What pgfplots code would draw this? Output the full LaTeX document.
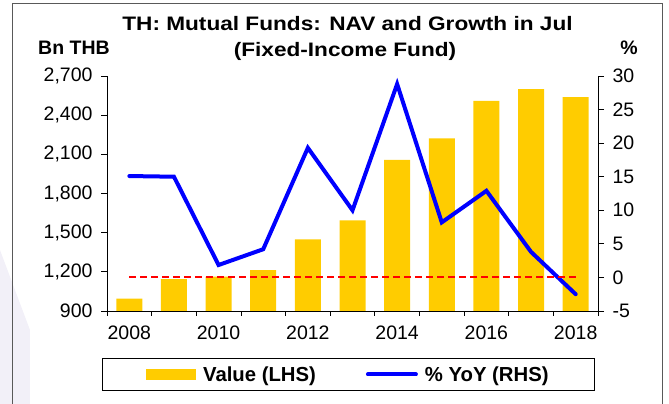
\documentclass[border=0pt]{standalone}
\usepackage{fontspec}
\setmainfont{Liberation Sans}
\newfontfamily\titlefont[FakeStretch=1.16]{Liberation Sans}
\usepackage{pgfplots}
\pgfplotsset{compat=1.18}
\definecolor{barc}{HTML}{FFCC00}
\definecolor{linec}{HTML}{0000FF}
\definecolor{framec}{HTML}{595959}
\definecolor{wmark}{RGB}{242,240,248}
\pgfplotsset{
  common/.style={
    scale only axis, width=491pt, height=235pt,
    at={(0pt,0pt)}, anchor=south west,
    xmin=2007.5, xmax=2018.5,
    tick align=outside, major tick length=6pt, minor tick length=5pt,
    axis line style={black, line width=0.8pt},
    tick style={black, line width=0.8pt},
    /pgf/number format/assume math mode=true,
    /pgf/number format/1000 sep={,},
  }
}
\begin{document}
\begin{tikzpicture}[font=\fontsize{19.5}{23}\selectfont]
\begin{scope}[shift={(-107pt,311pt)}, x=1pt, y=-1pt]
\useasboundingbox (0,0) rectangle (669,404);
\fill[wmark] (0,250) -- (30,330) -- (30,404) -- (0,404) -- cycle;
\draw[framec, line width=1pt] (13,4) rectangle (662,440);
\end{scope}

\begin{axis}[common,
  axis y line*=left, axis x line*=bottom,
  ymin=900, ymax=2700, ytick={900,1200,...,2700},
  yticklabel style={xshift=-5pt},
  xtick={2008,2010,...,2018},
  xticklabel style={/pgf/number format/1000 sep=, yshift=-5pt},
  major x tick style={draw=none},
  minor xtick={2007.5,2008.5,...,2018.5},
]
\addplot[ybar, bar width=26pt, fill=barc, draw=none] coordinates {
(2008,995) (2009,1145) (2010,1163) (2011,1214) (2012,1449) (2013,1595)
(2014,2057) (2015,2223) (2016,2509) (2017,2600) (2018,2539)};
\end{axis}

\begin{axis}[common,
  axis y line*=right, axis x line=none,
  ymin=-5, ymax=30, ytick={-5,0,...,30},
  yticklabel style={xshift=5pt},
  clip=false,
  legend columns=2,
  legend style={at={(0.4918,-0.27)}, anchor=center, draw=black, line width=0.8pt,
    font=\fontsize{20.3}{24}\selectfont\bfseries, inner xsep=44pt, inner ysep=6pt,
    /tikz/every even column/.append style={column sep=48pt}},
]
\addlegendimage{legend image code/.code={\fill[barc] (0pt,-5pt) rectangle (49pt,5pt); \path (54pt,0pt);}}
\addlegendentry{Value (LHS)}
\addplot[linec, line width=4pt, line cap=round,
  legend image code/.code={\draw[linec, line width=4pt, line cap=round] (2pt,0pt) -- (50pt,0pt); \path (55pt,0pt);}]
  coordinates {
(2008,15.1) (2009,15.0) (2010,1.85) (2011,4.2) (2012,19.3) (2013,10.0)
(2014,28.8) (2015,8.2) (2016,12.9) (2017,3.8) (2018,-2.5)};
\addlegendentry{\% YoY (RHS)}
\addplot[red, line width=2pt, dash pattern=on 7pt off 4pt, forget plot]
  coordinates {(2008,0) (2018,0)};
\end{axis}

\begin{scope}[shift={(-107pt,311pt)}, x=1pt, y=-1pt]
\node[anchor=base, inner sep=0pt] at (347.5,31) {\titlefont\bfseries TH: Mutual Funds: NAV and Growth in Jul};
\node[anchor=base, inner sep=0pt] at (345,56.7) {\titlefont\bfseries (Fixed-Income Fund)};
\node[anchor=base west, inner sep=0pt] at (38,55) {\bfseries Bn THB};
\node[anchor=base, inner sep=0pt] at (629,55) {\bfseries \%};
\end{scope}
\end{tikzpicture}
\end{document}
